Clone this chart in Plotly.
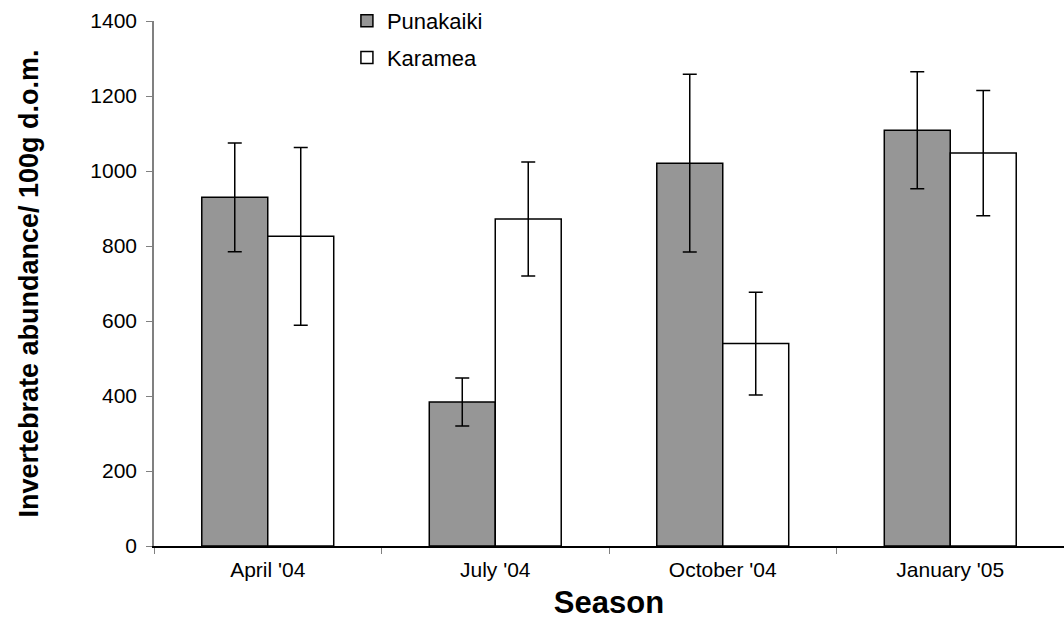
import plotly.graph_objects as go

seasons = ["April '04", "July '04", "October '04", "January '05"]
punakaiki = [930, 384, 1021, 1109]
punakaiki_err = [145, 64, 237, 156]
karamea = [826, 872, 540, 1048]
karamea_err = [237, 152, 137, 167]

fig = go.Figure()
fig.add_trace(go.Bar(
    x=seasons, y=punakaiki, name="Punakaiki", legendgroup="a",
    marker=dict(color="#969696", line=dict(color="black", width=1.5)),
    error_y=dict(type="data", array=punakaiki_err, color="black", thickness=1.5, width=7),
))
fig.add_trace(go.Bar(
    x=seasons, y=karamea, name="Karamea", legendgroup="b",
    marker=dict(color="white", line=dict(color="black", width=1.5)),
    error_y=dict(type="data", array=karamea_err, color="black", thickness=1.5, width=7),
))

fig.update_layout(
    width=1064, height=644,
    margin=dict(l=154, r=0, t=20, b=98),
    paper_bgcolor="white", plot_bgcolor="white",
    barmode="group", bargap=0.42, bargroupgap=0,
    font=dict(family="Liberation Sans, Arial, sans-serif", size=21, color="black"),
    showlegend=True,
    legend=dict(x=0.212, y=1.04, xanchor="left", yanchor="top",
                traceorder="grouped", tracegroupgap=5,
                bgcolor="rgba(0,0,0,0)", font=dict(size=22)),
)
fig.update_xaxes(
    showline=True, linecolor="black", linewidth=1.5,
    ticks="outside", tickson="boundaries", ticklen=6, tickcolor="#808080",
    ticklabelstandoff=4,
    tickfont=dict(size=21),
    title=dict(text="<b>Season</b>", font=dict(size=31), standoff=11),
    showgrid=False,
)
fig.update_yaxes(
    range=[0, 1400], dtick=200,
    showline=True, linecolor="#808080", linewidth=1.5,
    ticks="outside", ticklen=6, tickcolor="#808080", ticklabelstandoff=5,
    tickfont=dict(size=21),
    title=dict(text="<b>Invertebrate abundance/ 100g d.o.m.</b>", font=dict(size=27), standoff=44),
    showgrid=False, zeroline=False,
)

fig.write_html("out.html")
